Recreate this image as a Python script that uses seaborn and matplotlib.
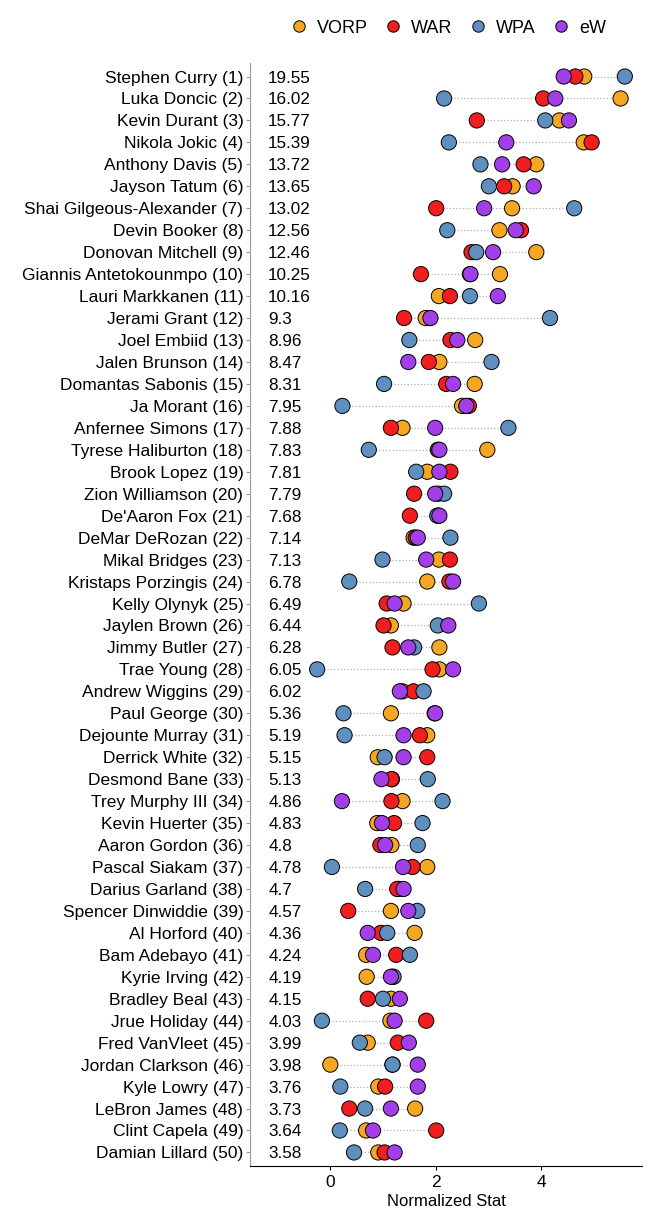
import pandas as pd
import numpy as np
import matplotlib
matplotlib.use("Agg")
import matplotlib.pyplot as plt
import seaborn as sns

players = ["Stephen Curry", "Luka Doncic", "Kevin Durant", "Nikola Jokic", "Anthony Davis",
           "Jayson Tatum", "Shai Gilgeous-Alexander", "Devin Booker", "Donovan Mitchell",
           "Giannis Antetokounmpo", "Lauri Markkanen", "Jerami Grant", "Joel Embiid",
           "Jalen Brunson", "Domantas Sabonis", "Ja Morant", "Anfernee Simons",
           "Tyrese Haliburton", "Brook Lopez", "Zion Williamson", "De'Aaron Fox",
           "DeMar DeRozan", "Mikal Bridges", "Kristaps Porzingis", "Kelly Olynyk",
           "Jaylen Brown", "Jimmy Butler", "Trae Young", "Andrew Wiggins", "Paul George",
           "Dejounte Murray", "Derrick White", "Desmond Bane", "Trey Murphy III",
           "Kevin Huerter", "Aaron Gordon", "Pascal Siakam", "Darius Garland",
           "Spencer Dinwiddie", "Al Horford", "Bam Adebayo", "Kyrie Irving", "Bradley Beal",
           "Jrue Holiday", "Fred VanVleet", "Jordan Clarkson", "Kyle Lowry", "LeBron James",
           "Clint Capela", "Damian Lillard"]
totals = ["19.55", "16.02", "15.77", "15.39", "13.72", "13.65", "13.02", "12.56", "12.46",
          "10.25", "10.16", "9.3", "8.96", "8.47", "8.31", "7.95", "7.88", "7.83", "7.81",
          "7.79", "7.68", "7.14", "7.13", "6.78", "6.49", "6.44", "6.28", "6.05", "6.02",
          "5.36", "5.19", "5.15", "5.13", "4.86", "4.83", "4.8", "4.78", "4.7", "4.57",
          "4.36", "4.24", "4.19", "4.15", "4.03", "3.99", "3.98", "3.76", "3.73", "3.64",
          "3.58"]
vorp = [4.82, 5.51, 4.35, 4.81, 3.91, 3.46, 3.45, 3.21, 3.91, 3.22, 2.06, 1.81, 2.75, 2.07,
        2.74, 2.50, 1.37, 2.98, 1.84, 2.05, 2.05, 1.58, 2.06, 1.84, 1.39, 1.15, 2.07, 2.07,
        1.37, 1.15, 1.84, 0.90, 1.17, 1.37, 0.89, 1.16, 1.84, 1.30, 1.15, 1.60, 0.68, 0.69,
        1.15, 1.14, 0.71, 0.00, 0.91, 1.61, 0.68, 0.91]
war = [4.65, 4.04, 2.78, 4.96, 3.67, 3.30, 2.01, 3.62, 2.68, 1.72, 2.27, 1.40, 2.28, 1.87,
       2.20, 2.63, 1.15, 2.04, 2.28, 1.59, 1.51, 1.62, 2.27, 2.26, 1.07, 1.01, 1.18, 1.94,
       1.58, 1.98, 1.70, 1.84, 1.16, 1.16, 1.21, 0.95, 1.56, 1.27, 0.34, 0.96, 1.25, 1.18,
       0.71, 1.82, 1.28, 1.18, 1.04, 0.36, 2.01, 1.03]
wpa = [5.59, 2.16, 4.08, 2.25, 2.85, 3.01, 4.63, 2.22, 2.77, 2.65, 2.65, 4.17, 1.50, 3.06,
       1.02, 0.23, 3.38, 0.73, 1.63, 2.16, 2.03, 2.28, 0.99, 0.36, 2.82, 2.04, 1.59, -0.25,
       1.77, 0.25, 0.27, 1.03, 1.85, 2.13, 1.75, 1.66, 0.03, 0.66, 1.65, 1.08, 1.51, 1.20,
       1.00, -0.16, 0.56, 1.18, 0.19, 0.66, 0.18, 0.45]
ew = [4.43, 4.27, 4.53, 3.34, 3.26, 3.86, 2.92, 3.52, 3.09, 2.66, 3.18, 1.90, 2.41, 1.48,
      2.33, 2.58, 1.99, 2.07, 2.07, 1.99, 2.07, 1.66, 1.82, 2.33, 1.22, 2.24, 1.48, 2.33,
      1.32, 1.99, 1.39, 1.39, 0.97, 0.22, 0.98, 1.04, 1.38, 1.39, 1.48, 0.71, 0.81, 1.15,
      1.32, 1.22, 1.49, 1.66, 1.66, 1.15, 0.81, 1.22]

labels = [f"{p} ({i + 1})" for i, p in enumerate(players)]
df = pd.DataFrame({"player": labels, "VORP": vorp, "WAR": war, "WPA": wpa, "eW": ew})
long_df = df.melt(id_vars="player", var_name="stat", value_name="value")

palette = {"VORP": "#F5A623", "WAR": "#F01E1E", "WPA": "#5F8FBF", "eW": "#A23FE8"}

sns.set_style("white")
plt.rcParams["font.family"] = ["Liberation Sans", "DejaVu Sans"]
plt.rcParams["text.color"] = "black"
plt.rcParams["axes.labelcolor"] = "black"

fig, ax = plt.subplots(figsize=(6.5, 12.18), dpi=100)
fig.subplots_adjust(left=0.385, right=0.988, top=0.948, bottom=0.043)

ypos = np.arange(len(labels))
lo = df[["VORP", "WAR", "WPA", "eW"]].min(axis=1)
hi = df[["VORP", "WAR", "WPA", "eW"]].max(axis=1)
ax.hlines(ypos, lo, hi, colors="#b0b0b0", linestyles=":", linewidth=0.9, zorder=1)

sns.scatterplot(data=long_df, x="value", y="player", hue="stat", palette=palette,
                s=120, edgecolor="black", linewidth=0.7, ax=ax, zorder=3)

for y, t in zip(ypos, totals):
    ax.text(-1.18, y, t, ha="left", va="center_baseline", fontsize=12.3, color="black")

ax.set_xlim(-1.52, 5.92)
ax.set_ylim(len(labels) - 0.4, -0.6)
ax.set_xticks([0, 2, 4])
ax.set_xlabel("Normalized Stat", fontsize=12, labelpad=3, color="black")
ax.set_ylabel("")
ax.tick_params(axis="y", labelsize=12.5, length=3, color="#999999", labelcolor="black",
               left=True, pad=2)
ax.tick_params(axis="x", labelsize=12.5, length=3, color="black", labelcolor="black",
               bottom=True)
for s in ["top", "right"]:
    ax.spines[s].set_visible(False)
ax.spines["left"].set_color("#999999")
ax.spines["bottom"].set_color("black")

handles, hl = ax.get_legend_handles_labels()
ax.legend(handles, hl, loc="center", bbox_to_anchor=(0.685, 0.977), bbox_transform=fig.transFigure,
          ncol=4, frameon=False, fontsize=13, handletextpad=0.2, columnspacing=0.6,
          markerscale=0.75, handlelength=1.6, labelcolor="black")

fig.savefig("out.png", dpi=100)
